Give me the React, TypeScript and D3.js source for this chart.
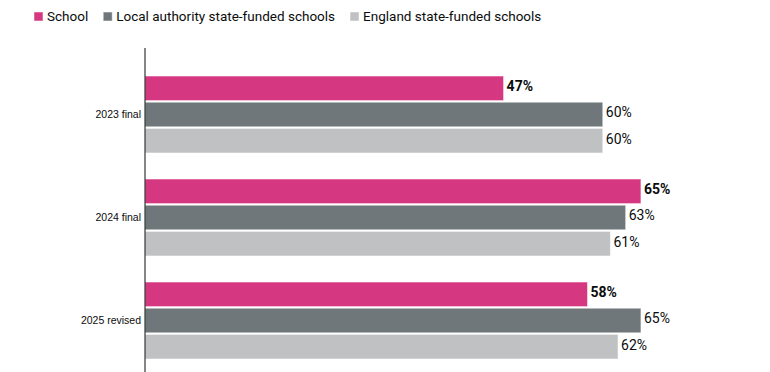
import { useEffect, useRef } from 'react';
import * as d3 from 'd3';

const years = ['2023 final', '2024 final', '2025 revised'];
const seriesNames = ['School', 'Local authority state-funded schools', 'England state-funded schools'];
const schoolValues = [47, 65, 58];
const laValues = [60, 63, 65];
const englandValues = [60, 61, 62];
const colors = ['#d53880', '#6f777b', '#bfc1c3'];

export default function App() {
  const svgRef = useRef<SVGSVGElement>(null);

  useEffect(() => {
    if (!svgRef.current) return;
    const svg = d3.select(svgRef.current);
    svg.selectAll('*').remove();

    const height = 372;
    const x0 = 145;
    const font = 'Roboto, "Noto Sans", sans-serif';

    const series = [schoolValues, laValues, englandValues];
    const rows = years.map((y, i) => ({ year: y, values: series.map(s => s[i]) }));

    const yScale = d3.scaleBand<string>().domain(years).range([50, 385]).paddingInner(0.2524).paddingOuter(0.2524);
    const inner = d3.scaleBand<number>().domain([0, 1, 2]).range([0, yScale.bandwidth()]).paddingInner(0.06);
    const xScale = d3.scaleLinear().domain([0, 100]).range([0, 763]);

    // Legend, laid out from measured text widths
    const legend = svg.append('g').attr('transform', 'translate(34, 12)');
    let lx = 0;
    seriesNames.forEach((name, i) => {
      const g = legend.append('g').attr('transform', `translate(${lx}, 0)`);
      g.append('rect').attr('width', 9).attr('height', 9).attr('fill', colors[i])
        .attr('stroke', 'rgba(255,255,255,0.5)').attr('stroke-width', 1);
      const t = g.append('text').attr('x', 13).attr('y', 4.5).attr('dy', '0.35em')
        .attr('font-family', font).attr('font-size', 13.5).attr('fill', '#0b0c0c').text(name);
      const w = (t.node() as SVGTextElement).getComputedTextLength();
      lx += 13 + w + 15;
    });

    const chart = svg.append('g').attr('transform', `translate(${x0}, 0)`);

    rows.forEach(row => {
      const gy = yScale(row.year)!;
      chart.append('text')
        .attr('x', -4).attr('y', gy + yScale.bandwidth() / 2).attr('dy', '0.35em')
        .attr('text-anchor', 'end').attr('font-family', '"Liberation Sans", Arial, sans-serif')
        .attr('font-size', 10.5).attr('fill', '#0b0c0c').text(row.year);

      row.values.forEach((v, j) => {
        const by = gy + inner(j)!;
        chart.append('rect')
          .attr('x', 0).attr('y', by).attr('width', xScale(v)).attr('height', inner.bandwidth())
          .attr('fill', colors[j]).attr('stroke', 'rgba(255,255,255,0.55)').attr('stroke-width', 1);
        chart.append('text')
          .attr('x', xScale(v) + 3).attr('y', by + inner.bandwidth() / 2 - 2).attr('dy', '0.35em')
          .attr('font-family', font).attr('font-size', 14)
          .attr('font-weight', j === 0 ? 'bold' : 'normal')
          .attr('fill', '#0b0c0c').text(`${v}%`);
      });
    });

    // axis line
    chart.append('line').attr('x1', 0).attr('x2', 0).attr('y1', 48).attr('y2', height)
      .attr('stroke', '#0b0c0c').attr('stroke-width', 1);
  }, []);

  return (
    <svg ref={svgRef} width={770} height={372}
      style={{ position: 'absolute', top: 0, left: 0, background: '#fff' }} />
  );
}
